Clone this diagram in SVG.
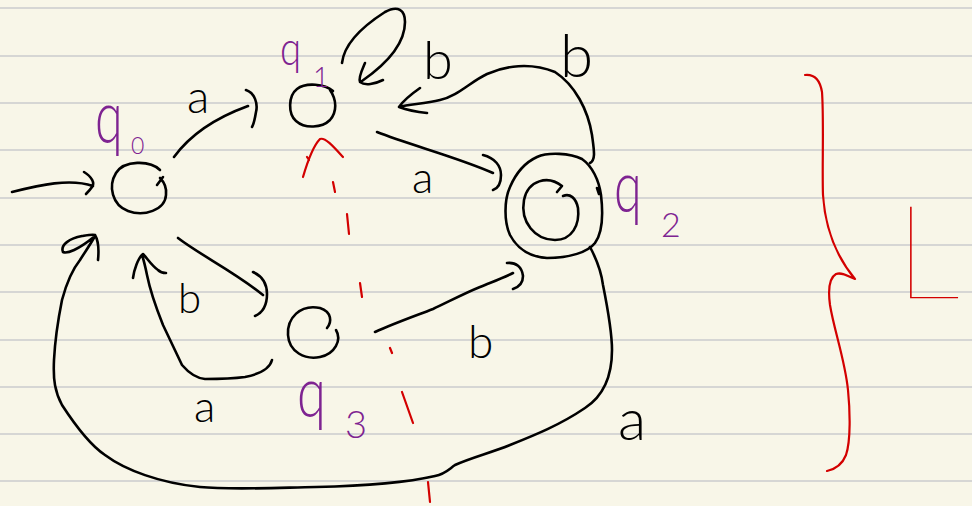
<svg xmlns="http://www.w3.org/2000/svg" width="972" height="506" viewBox="0 0 972 506">
<style>
.ink{fill:none;stroke:#000;stroke-width:2.6;stroke-linecap:round;stroke-linejoin:round}
.red{fill:none;stroke:#d30000;stroke-width:2.2;stroke-linecap:round;stroke-linejoin:round}
.rule{stroke:#d6d6d4;stroke-width:2}
.lbl{font-family:Lato,"Liberation Sans",sans-serif;font-weight:300;fill:#000}
.st{font-family:Lato,"Liberation Sans",sans-serif;font-weight:300;fill:#7e2391}
</style>
<rect width="972" height="506" fill="#f8f6e8"/>
<g id="paper">
<line class="rule" x1="0" y1="8" x2="972" y2="8"/>
<line class="rule" x1="0" y1="56" x2="972" y2="56"/>
<line class="rule" x1="0" y1="103" x2="972" y2="103"/>
<line class="rule" x1="0" y1="150" x2="972" y2="150"/>
<line class="rule" x1="0" y1="198" x2="972" y2="198"/>
<line class="rule" x1="0" y1="245" x2="972" y2="245"/>
<line class="rule" x1="0" y1="292" x2="972" y2="292"/>
<line class="rule" x1="0" y1="340" x2="972" y2="340"/>
<line class="rule" x1="0" y1="387" x2="972" y2="387"/>
<line class="rule" x1="0" y1="434" x2="972" y2="434"/>
<line class="rule" x1="0" y1="481" x2="972" y2="481"/>
</g>
<g id="q0">
<path class="ink" d="M160,170 C150,160 124,160 116,173 C108,186 112,205 128,211 C144,217 165,210 166,195 C167,187 164,182 160,178 M157,185 L163,177"/>
<text class="st" font-size="74" transform="translate(95,143) scale(0.68,1)">q</text>
<text class="st" x="131" y="154" font-size="23">0</text>
</g>
<g id="q1">
<path class="ink" d="M333,91 C325,84 306,82 297,89 C288,96 288,114 296,121 C305,129 322,128 330,120 C337,112 337,100 330,90"/>
<text class="st" font-size="48" transform="translate(280,65) scale(0.8,1)">q</text>
<text class="st" x="313" y="87" font-size="28">1</text>
</g>
<g id="q2">
<path class="ink" d="M537,157 C548,152 570,153 582,159 C592,166 599,180 601,195 C603,212 603,232 595,243 C588,252 570,258 547,258 C532,257 518,250 510,235 C504,222 504,200 510,187 C516,173 526,162 537,157 M597,188 L599,194"/>
<path class="ink" d="M557,192 L562,186 C548,175 528,180 524,200 C520,222 535,240 555,240 C572,240 580,225 578,208 C576,198 570,193 563,196"/>
<text class="st" font-size="72" transform="translate(614,212) scale(0.7,1)">q</text>
<text class="st" x="661" y="237" font-size="34">2</text>
</g>
<g id="q3">
<path class="ink" d="M327,328 C332,322 332,312 320,308 C300,304 287,318 288,335 C289,352 305,360 320,357 C335,354 342,340 336,330"/>
<text class="st" font-size="70" transform="translate(297,417) scale(0.75,1)">q</text>
<text class="st" x="345" y="438" font-size="38">3</text>
</g>
<g id="connectors">
<path class="ink" d="M12,192 C40,185 70,178 93,186 M84,172 C92,177 95,183 92,187 C90,190 88,192 86,194"/>
<path class="ink" d="M174,157 C190,135 215,118 248,106 M246,90 C255,93 258,104 256,112 C255,118 254,124 252,127"/>
<path class="ink" d="M342,63 C344,45 360,28 385,12 C398,5 405,10 405,22 C405,45 385,65 362,81 M365,63 C362,70 358,78 360,82 C365,86 375,84 383,80"/>
<path class="ink" d="M590,163 C596,160 594,150 592,135 C588,110 575,85 555,72 C530,62 505,66 487,74 C470,82 458,96 440,100 C425,104 410,104 399,107 M420,88 C410,95 403,101 399,107 C410,111 418,112 427,113"/>
<path class="ink" d="M377,132 C410,145 460,158 493,173 M483,155 C495,158 501,166 501,175 C501,182 499,188 493,190"/>
<path class="ink" d="M178,238 C200,255 235,272 263,295 M253,272 C262,276 267,284 267,294 C267,303 264,312 255,316"/>
<path class="ink" d="M272,360 C270,368 260,374 245,377 C230,379 215,379 205,379 C195,378 188,372 182,365 C175,350 170,340 163,325 C155,305 150,290 147,275 C145,265 143,258 142,255 M133,278 C134,270 138,258 143,254 C147,258 152,266 158,270 C160,272 163,273 166,273"/>
<path class="ink" d="M375,332 C395,323 415,316 433,309 C450,301 465,293 480,287 C492,282 503,278 513,273 M507,263 C516,262 522,267 523,276 C523,283 519,287 513,289"/>
<path class="ink" d="M590,247 C597,260 601,270 603,285 C607,305 612,330 612,350 C612,375 605,395 585,408 C560,425 535,435 510,445 C490,453 470,458 455,465 C448,470 445,474 435,476 C400,484 360,486 316,487 C270,488 230,490 200,487 C160,483 125,470 105,455 C90,445 75,425 62,405 C55,392 53,380 54,360 C55,340 58,320 62,300 C66,285 72,270 80,260 C85,252 90,245 95,236 M63,252 C60,245 70,238 82,236 C88,235 93,234 95,235 C98,240 99,250 98,260 M63,252 C67,254 78,250 95,236"/>
<text class="lbl" x="187" y="113" font-size="46">a</text>
<text class="lbl" x="423" y="79" font-size="54">b</text>
<text class="lbl" x="560" y="77" font-size="60">b</text>
<text class="lbl" x="412" y="193" font-size="44">a</text>
<text class="lbl" x="178" y="313" font-size="42">b</text>
<text class="lbl" x="194" y="422" font-size="44">a</text>
<text class="lbl" x="468" y="358" font-size="46">b</text>
<text class="lbl" x="618" y="440" font-size="58">a</text>
</g>
<g id="annotations">
<path class="red" d="M303,177 C308,160 314,145 320,139 C325,137 333,146 343,157 M307,157 L309,160"/>
<path class="red" d="M333,182 L335,192 M347,214 L349,234 M360,283 L362,297 M390,348 L392,353 M402,392 L413,423 M428,482 L430,502"/>
<path class="red" d="M805,75 C815,74 820,80 822,92 C824,120 822,170 823,195 C825,225 835,255 855,279 C848,276 842,272 836,274 C829,278 828,290 830,305 C834,330 845,360 848,390 C850,410 851,440 846,455 C842,465 836,469 827,471"/>
<text x="895" y="298" font-size="130" font-family="Lato,'Liberation Sans',sans-serif" font-weight="100" fill="#d30000">L</text>
</g>
</svg>
